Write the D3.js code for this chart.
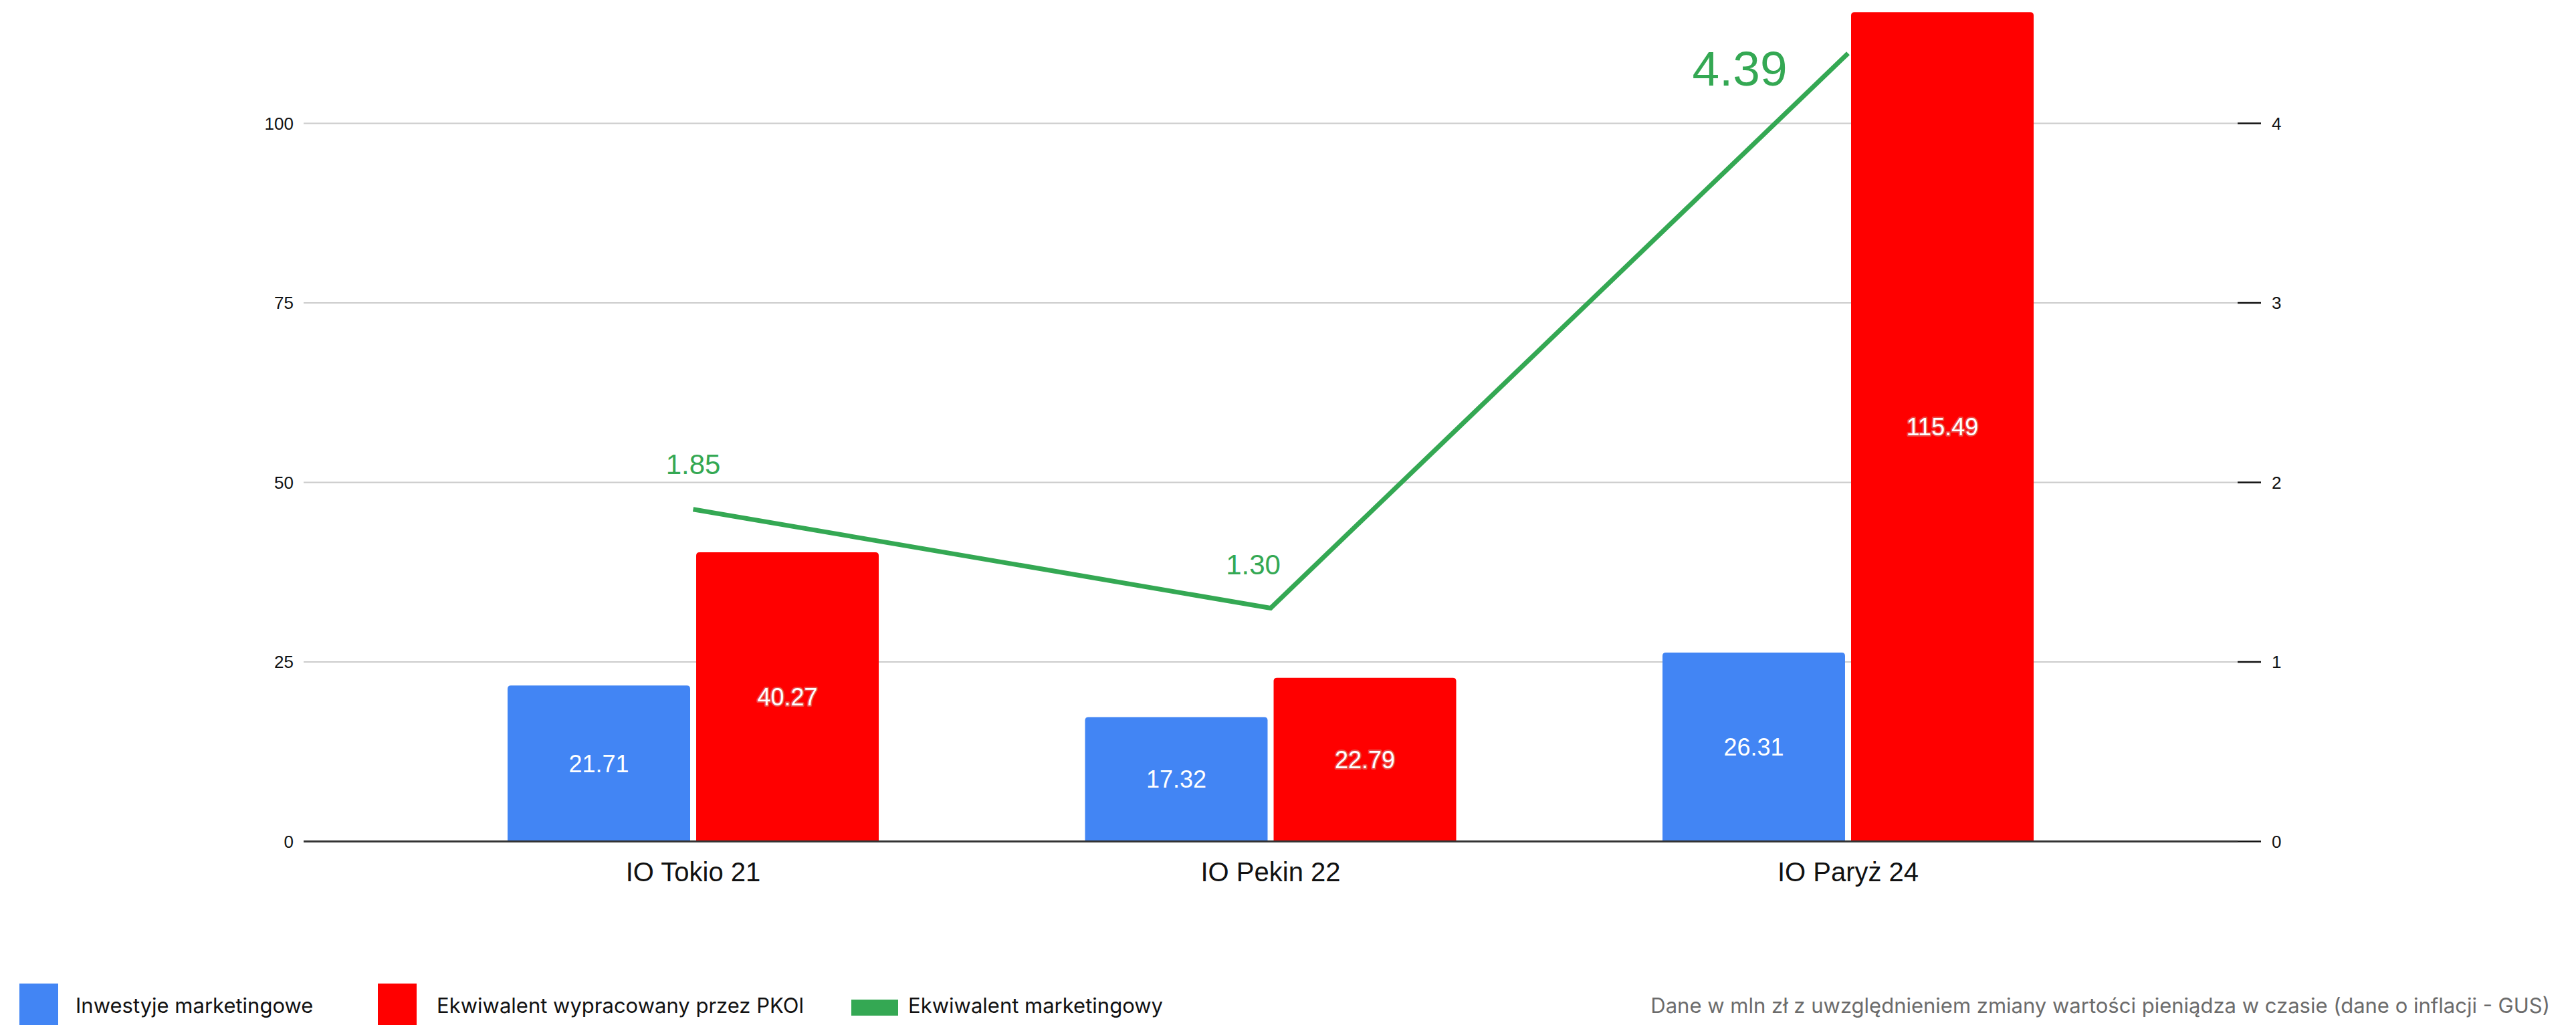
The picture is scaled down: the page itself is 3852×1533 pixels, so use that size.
<!DOCTYPE html>
<html>
<head>
<meta charset="utf-8">
<script src="https://cdn.jsdelivr.net/npm/d3@7"></script>
<style>
    html, body { margin: 0; padding: 0; background: #fff; }
    svg { display: block; }
</style>
</head>
<body>
<svg id="chart" width="3852" height="1533"></svg>
<script>
// Chart data
var categories = ["IO Tokio 21", "IO Pekin 22", "IO Paryż 24"];
var investments = [21.71, 17.32, 26.31];
var equivalentPKOl = [40.27, 22.79, 115.49];
var marketingEquivalent = [1.85, 1.30, 4.39];
var leftTicks = [0, 25, 50, 75, 100];
var rightTicks = [0, 1, 2, 3, 4];
var seriesNames = ["Inwestyje marketingowe", "Ekwiwalent wypracowany przez PKOl", "Ekwiwalent marketingowy"];
var noteText = "Dane w mln zł z uwzględnieniem zmiany wartości pieniądza w czasie (dane o inflacji - GUS)";

var BLUE = "#4285f4", RED = "#ff0000", GREEN = "#34a853";
var chartFont = "'Liberation Sans', Arial, sans-serif";
var legendFont = "Inter, 'Noto Sans', sans-serif";

var svg = d3.select("#chart");
svg.append("rect").attr("width", 3852).attr("height", 1533).attr("fill", "#fff");

var plotLeft = 454, plotRight = 3346, plotTop = 184.5, plotBottom = 1258.5;

var x = d3.scaleBand().domain(categories).range([plotLeft, plotRight])
    .paddingInner(0).paddingOuter(0.1746);
var xs = d3.scaleBand().domain([0, 1]).range([-277.5, 277.5]).paddingInner(0.032);
var yLeft = d3.scaleLinear().domain([0, 100]).range([plotBottom, plotTop]);
var yRight = d3.scaleLinear().domain([0, 4]).range([plotBottom, plotTop]);

var center = function(c) { return x(c) + x.bandwidth() / 2; };

// Gridlines
svg.append("g").selectAll("line")
    .data(leftTicks.filter(function(d) { return d > 0; }))
    .enter().append("line")
    .attr("x1", plotLeft).attr("x2", plotRight)
    .attr("y1", function(d) { return yLeft(d); })
    .attr("y2", function(d) { return yLeft(d); })
    .attr("stroke", "#cccccc").attr("stroke-width", 2);

// Left axis labels
svg.append("g").selectAll("text")
    .data(leftTicks)
    .enter().append("text")
    .attr("x", 439)
    .attr("y", function(d) { return yLeft(d); })
    .attr("dy", "0.36em")
    .attr("text-anchor", "end")
    .attr("font-family", chartFont).attr("font-size", 26).attr("fill", "#111")
    .text(function(d) { return d; });

// Right axis: ticks and labels
var rightAxis = svg.append("g");
rightAxis.selectAll("line")
    .data(rightTicks)
    .enter().append("line")
    .attr("x1", plotRight).attr("x2", plotRight + 35)
    .attr("y1", function(d) { return yRight(d); })
    .attr("y2", function(d) { return yRight(d); })
    .attr("stroke", "#111").attr("stroke-width", 2.5);
rightAxis.selectAll("text")
    .data(rightTicks)
    .enter().append("text")
    .attr("x", 3397)
    .attr("y", function(d) { return yRight(d); })
    .attr("dy", "0.36em")
    .attr("font-family", chartFont).attr("font-size", 26).attr("fill", "#111")
    .text(function(d) { return d; });

// Bars with rounded top corners
function topRounded(x0, y0, w, h, r) {
    r = Math.min(r, h, w / 2);
    return "M" + x0 + "," + (y0 + h) +
        "V" + (y0 + r) +
        "Q" + x0 + "," + y0 + " " + (x0 + r) + "," + y0 +
        "H" + (x0 + w - r) +
        "Q" + (x0 + w) + "," + y0 + " " + (x0 + w) + "," + (y0 + r) +
        "V" + (y0 + h) + "Z";
}

var barData = [];
categories.forEach(function(c, i) {
    barData.push({ cat: c, s: 0, v: investments[i], color: BLUE });
    barData.push({ cat: c, s: 1, v: equivalentPKOl[i], color: RED });
});

svg.append("g").selectAll("path")
    .data(barData)
    .enter().append("path")
    .attr("fill", function(d) { return d.color; })
    .attr("d", function(d) {
        var bx = center(d.cat) + xs(d.s);
        var by = yLeft(d.v);
        return topRounded(bx, by, xs.bandwidth(), plotBottom - by, 5);
    });

// Bar value labels
svg.append("g").selectAll("text")
    .data(barData)
    .enter().append("text")
    .attr("x", function(d) { return center(d.cat) + xs(d.s) + xs.bandwidth() / 2; })
    .attr("y", function(d) { return (yLeft(d.v) + plotBottom) / 2; })
    .attr("dy", "0.36em")
    .attr("text-anchor", "middle")
    .attr("font-family", chartFont).attr("font-size", 36)
    .attr("fill", "#fff")
    .attr("stroke", function(d) { return d.s == 1 ? "#ea4a45" : "none"; })
    .attr("stroke-width", 4)
    .attr("stroke-linejoin", "round")
    .attr("paint-order", "stroke")
    .text(function(d) { return d.v.toFixed(2); });

// Zero line
svg.append("line")
    .attr("x1", plotLeft).attr("x2", plotRight)
    .attr("y1", plotBottom).attr("y2", plotBottom)
    .attr("stroke", "#333").attr("stroke-width", 3);

// Category labels
svg.append("g").selectAll("text")
    .data(categories)
    .enter().append("text")
    .attr("x", function(d) { return center(d); })
    .attr("y", 1318)
    .attr("text-anchor", "middle")
    .attr("font-family", chartFont).attr("font-size", 40).attr("fill", "#111")
    .text(function(d) { return d; });

// Line series (right axis)
var line = d3.line()
    .x(function(d, i) { return center(categories[i]); })
    .y(function(d) { return yRight(d); });

svg.append("path")
    .datum(marketingEquivalent)
    .attr("fill", "none")
    .attr("stroke", GREEN)
    .attr("stroke-width", 7)
    .attr("stroke-linejoin", "miter")
    .attr("d", line);

// Line labels - placed like the original to avoid the line
var lineLabelDx = [0, -26, -162];
var lineLabelDy = [-53, -50, 48];
var lineLabelSize = [42, 42, 73];
svg.append("g").selectAll("text")
    .data(marketingEquivalent)
    .enter().append("text")
    .attr("x", function(d, i) { return center(categories[i]) + lineLabelDx[i]; })
    .attr("y", function(d, i) { return yRight(d) + lineLabelDy[i]; })
    .attr("text-anchor", "middle")
    .attr("font-family", chartFont)
    .attr("font-size", function(d, i) { return lineLabelSize[i]; })
    .attr("fill", GREEN)
    .text(function(d) { return d.toFixed(2); });

// Legend
var legend = svg.append("g");
var legendItems = [
    { name: seriesNames[0], color: BLUE, box: [29, 1471, 58, 62], tx: 113 },
    { name: seriesNames[1], color: RED, box: [565, 1471, 58, 62], tx: 653 },
    { name: seriesNames[2], color: GREEN, box: [1273, 1495, 70, 24], tx: 1358 }
];
legendItems.forEach(function(it) {
    legend.append("rect")
        .attr("x", it.box[0]).attr("y", it.box[1])
        .attr("width", it.box[2]).attr("height", it.box[3])
        .attr("fill", it.color);
    legend.append("text")
        .attr("x", it.tx).attr("y", 1515)
        .attr("font-family", legendFont).attr("font-size", 31).attr("fill", "#111")
        .text(it.name);
});

svg.append("text")
    .attr("x", 3813).attr("y", 1515)
    .attr("text-anchor", "end")
    .attr("font-family", legendFont).attr("font-size", 31).attr("fill", "#6b6b6b")
    .text(noteText);
</script>
</body>
</html>
